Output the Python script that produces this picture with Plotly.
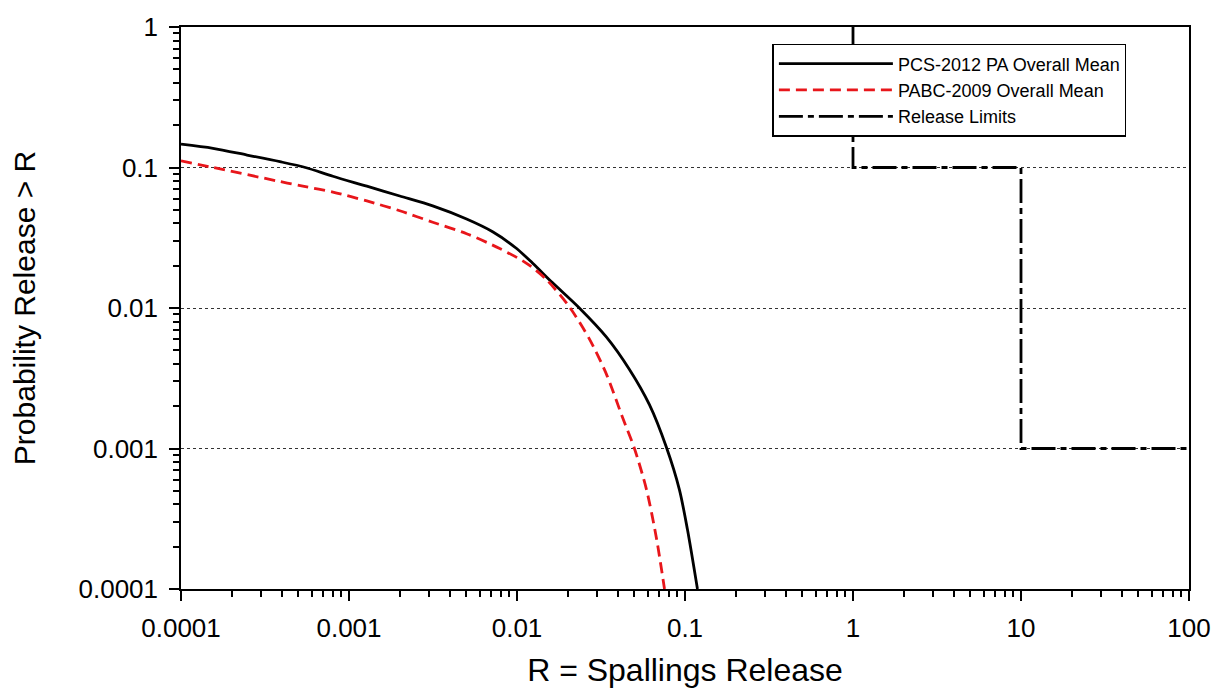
import plotly.graph_objects as go

# PCS-2012 PA Overall Mean (black solid)
pcs_x = [1e-4, 1.55e-4, 2.47e-4, 3.88e-4, 5.5e-4, 8.02e-4, 1.277e-3, 2.005e-3, 3.15e-3, 5.01e-3, 7.16e-3, 9.95e-3,
         0.0124, 0.0163, 0.0235, 0.0341, 0.0467, 0.0614, 0.0775, 0.0926, 0.1033, 0.1186]
pcs_y = [0.1466, 0.137, 0.1227, 0.110, 0.100, 0.0866, 0.0736, 0.0627, 0.0533, 0.0430, 0.0349, 0.0265,
         0.0208, 0.0151, 0.0100, 0.0062, 0.00365, 0.00205, 0.00102, 0.000510, 0.000267, 0.0001]

# PABC-2009 Overall Mean (red dashed)
pabc_x = [1e-4, 1.55e-4, 3.88e-4, 5.31e-4, 8.02e-4, 1.277e-3, 2.005e-3, 3.15e-3, 5.01e-3, 7.89e-3,
          0.0114, 0.0150, 0.0206, 0.0270, 0.0341, 0.0425, 0.0500, 0.0590, 0.0677, 0.0755]
pabc_y = [0.1115, 0.100, 0.0795, 0.0736, 0.0668, 0.0578, 0.0492, 0.0408, 0.0338, 0.0265,
          0.0208, 0.0159, 0.0101, 0.00601, 0.00337, 0.00166, 0.0010, 0.000510, 0.000228, 0.0001]

# Release Limits (step)
lim_x = [1, 1, 10, 10, 100]
lim_y = [1, 0.1, 0.1, 0.001, 0.001]

x_ticks = [1e-4, 1e-3, 1e-2, 1e-1, 1, 10, 100]
x_labels = ["0.0001", "0.001", "0.01", "0.1", "1", "10", "100"]
y_ticks = [1e-4, 1e-3, 1e-2, 1e-1, 1]
y_labels = ["0.0001", "0.001", "0.01", "0.1", "1"]

FONT = "Liberation Sans, Arial, sans-serif"

fig = go.Figure()
fig.add_trace(go.Scatter(x=pcs_x, y=pcs_y, mode="lines", name="PCS-2012 PA Overall Mean",
                         line=dict(color="black", width=2.8, shape="spline", smoothing=0.8)))
fig.add_trace(go.Scatter(x=pabc_x, y=pabc_y, mode="lines", name="PABC-2009 Overall Mean",
                         line=dict(color="#e8161b", width=2.8, dash="11px,6px", shape="spline", smoothing=0.8)))
fig.add_trace(go.Scatter(x=lim_x, y=lim_y, mode="lines", name="Release Limits",
                         line=dict(color="black", width=2.8, dash="24px,5px,6px,5px")))

fig.update_layout(
    width=1223, height=694,
    margin=dict(l=181, r=33, t=20, b=102),
    paper_bgcolor="white", plot_bgcolor="white",
    font=dict(family=FONT, color="black"),
    showlegend=True,
    legend=dict(x=0.5867, y=0.970, xanchor="left", yanchor="top",
                bordercolor="black", borderwidth=1.5, bgcolor="white",
                font=dict(size=18, family=FONT), itemwidth=114,
                tracegroupgap=0),
    xaxis=dict(
        type="log", range=[-4, 2],
        tickmode="array", tickvals=x_ticks, ticktext=x_labels,
        ticks="outside", ticklen=10, tickwidth=1.5, tickcolor="black",
        tickfont=dict(size=26, family=FONT),
        ticklabelstandoff=5,
        showline=True, linecolor="black", linewidth=1.5, mirror=True,
        showgrid=False, zeroline=False,
        minor=dict(ticks="outside", ticklen=6, tickwidth=1.5, tickcolor="black", dtick="D1", showgrid=False),
        title=dict(text="R = Spallings Release", font=dict(size=32, family=FONT), standoff=17),
    ),
    yaxis=dict(
        type="log", range=[-4, 0],
        tickmode="array", tickvals=y_ticks, ticktext=y_labels,
        ticks="outside", ticklen=10, tickwidth=1.5, tickcolor="black",
        tickfont=dict(size=26, family=FONT),
        ticklabelstandoff=6,
        showline=True, linecolor="black", linewidth=1.5, mirror=True,
        showgrid=True, gridcolor="#333333", griddash="dot", gridwidth=1,
        zeroline=False,
        minor=dict(ticks="outside", ticklen=6, tickwidth=1.5, tickcolor="black", dtick="D1", showgrid=False),
        title=dict(text="Probability Release > R", font=dict(size=30, family=FONT), standoff=34),
    ),
)

fig.write_html("out.html")
